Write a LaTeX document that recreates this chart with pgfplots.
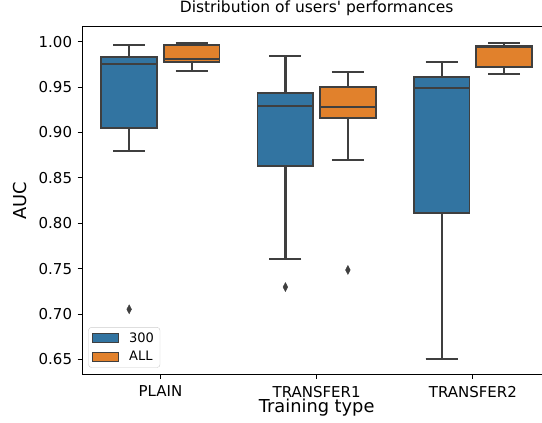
\documentclass[border=0pt]{standalone}
\usepackage{fontspec}
\setmainfont{DejaVu Sans}
\usepackage{pgfplots}
\pgfplotsset{compat=1.18}
\usepgfplotslibrary{statistics}
\definecolor{cblue}{HTML}{3274A1}
\definecolor{corange}{HTML}{E1812C}
\definecolor{cgray}{HTML}{3F3F3F}
\pgfplotsset{
  boxplot/every whisker/.style={draw=cgray, line width=2.2pt},
  boxplot/every median/.style={draw=cgray, line width=2.2pt},
  boxplot/every box/.style={draw=cgray, line width=1.8pt},
  mybox/.style={fill=#1, draw=cgray, line width=1.8pt, forget plot,
    mark=diamond*, mark size=5pt, mark options={fill=cgray, draw=cgray, line width=0.4pt, xscale=0.7, scale=0.9}},
}
\begin{document}
\begin{tikzpicture}
\path[use as bounding box, clip] (0,0) rectangle (542pt,423pt);
\begin{axis}[
  at={(82.3pt,48.7pt)}, anchor=south west,
  scale only axis, width=468.7pt, height=347.6pt,
  xmin=-0.5, xmax=2.5, ymin=0.6337, ymax=1.0165,
  xtick={0,1,2}, xticklabels={PLAIN,TRANSFER1,TRANSFER2},
  ytick={0.65,0.70,0.75,0.80,0.85,0.90,0.95,1.00},
  yticklabel style={xshift=-2pt, /pgf/number format/fixed, /pgf/number format/fixed zerofill, /pgf/number format/precision=2},
  /pgf/number format/assume math mode=true,
  tick align=outside, tick pos=left, major tick length=4.7pt,
  tick style={black, line width=0.8pt},
  ticklabel style={font=\fontsize{15}{18}\selectfont},
  xticklabel style={yshift=-3.5pt},
  axis line style={black, line width=0.8pt},
  boxplot/draw direction=y,
  title={Distribution of users\textquotesingle\ performances},
  title style={at={(axis description cs:0.5,1.0222)}, anchor=base, font=\fontsize{15.5}{18}\selectfont, inner sep=0pt},
  xlabel={Training type},
  xlabel style={at={(axis description cs:0.5,-0.1113)}, anchor=base, font=\fontsize{17.8}{20}\selectfont, inner sep=0pt},
  ylabel={AUC},
  ylabel style={at={(axis description cs:-0.1186,0.5)}, anchor=base, font=\fontsize{17.8}{20}\selectfont, inner sep=0pt},
  legend image code/.code={\draw[sharp corners, #1] (0pt,-4.65pt) rectangle (25.7pt,4.65pt);},
  legend style={at={(axis description cs:0.0128,0.019)}, anchor=south west,
    draw=black!20, rounded corners=3pt, fill=white,
    font=\fontsize{13}{15}\selectfont, inner xsep=4pt, inner ysep=3pt,
    row sep=4pt, /tikz/every odd column/.append style={column sep=8pt}},
  legend cell align=left,
]
\addlegendimage{fill=cblue, draw=cgray, line width=1pt}
\addlegendentry{300}
\addlegendimage{fill=corange, draw=cgray, line width=1pt}
\addlegendentry{ALL}

% PLAIN
\addplot[mybox=cblue, boxplot prepared={draw position=-0.2, lower whisker=0.880, lower quartile=0.905, median=0.975, upper quartile=0.9828, upper whisker=0.9964, box extend=0.356, whisker extend=0.205}]
  table[row sep=\\, y index=0] {y\\ 0.7053\\};
\addplot[mybox=corange, boxplot prepared={draw position=0.2, lower whisker=0.9674, lower quartile=0.9776, median=0.9806, upper quartile=0.9964, upper whisker=0.9985, box extend=0.356, whisker extend=0.205}]
  coordinates {};
% TRANSFER1
\addplot[mybox=cblue, boxplot prepared={draw position=0.8, lower whisker=0.7604, lower quartile=0.8634, median=0.9295, upper quartile=0.9432, upper whisker=0.9846, box extend=0.356, whisker extend=0.205}]
  table[row sep=\\, y index=0] {y\\ 0.7298\\};
\addplot[mybox=corange, boxplot prepared={draw position=1.2, lower whisker=0.8694, lower quartile=0.9163, median=0.9284, upper quartile=0.9500, upper whisker=0.9670, box extend=0.356, whisker extend=0.205}]
  table[row sep=\\, y index=0] {y\\ 0.7486\\};
% TRANSFER2
\addplot[mybox=cblue, boxplot prepared={draw position=1.8, lower whisker=0.6506, lower quartile=0.8110, median=0.9493, upper quartile=0.9615, upper whisker=0.9776, box extend=0.356, whisker extend=0.205}]
  coordinates {};
\addplot[mybox=corange, boxplot prepared={draw position=2.2, lower whisker=0.9640, lower quartile=0.9718, median=0.9938, upper quartile=0.9955, upper whisker=0.9989, box extend=0.356, whisker extend=0.205}]
  coordinates {};
\end{axis}
\end{tikzpicture}
\end{document}
